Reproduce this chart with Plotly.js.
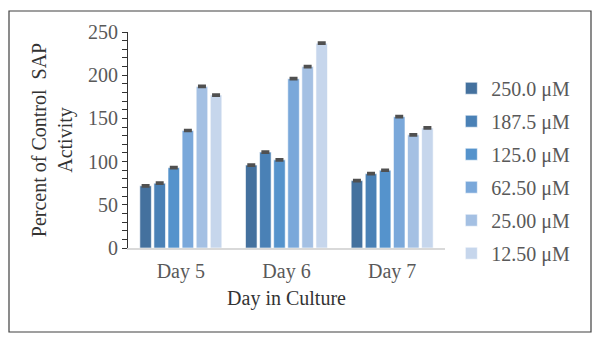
<!DOCTYPE html>
<html>
<head>
<meta charset="utf-8">
<script src="https://cdn.plot.ly/plotly-3.0.1.min.js"></script>
<style>
html,body{margin:0;padding:0;background:#fff;}
#chart{width:600px;height:344px;}
</style>
</head>
<body>
<div id="chart"></div>
<script>
const days = ["Day 5", "Day 6", "Day 7"];
const seriesNames = ["250.0 μM", "187.5 μM", "125.0 μM", "62.50 μM", "25.00 μM", "12.50 μM"];
const s250 = [72, 96, 78];
const s187 = [75, 111, 86];
const s125 = [93, 102, 90];
const s62 = [136, 196, 152];
const s25 = [187, 210, 131];
const s12 = [177, 237, 139];
const errs = [1, 1, 1];
const colors = ["#44719e", "#4a81b6", "#5593cc", "#7aa8da", "#a4c0e3", "#c6d6ec"];

const seriesValues = [s250, s187, s125, s62, s25, s12];
const traces = seriesValues.map((vals, i) => ({
  type: "bar",
  name: seriesNames[i],
  x: days,
  y: vals,
  legendgroup: "g" + i,
  marker: {color: colors[i], line: {color: "rgba(255,255,255,0.6)", width: 1}},
  error_y: {type: "data", array: errs, visible: true, color: "#505050", thickness: 2, width: 4}
}));

const L = 128, R = 155, T = 32, B = 96;
const W = 600 - L - R, H = 344 - T - B;
const px = v => (v - L) / W;
const py = v => (344 - B - v) / H;

const layout = {
  width: 600, height: 344,
  margin: {l: L, r: R, t: T, b: B},
  paper_bgcolor: "#fff", plot_bgcolor: "#fff",
  font: {family: "Liberation Serif, Times New Roman, serif", color: "#595959"},
  barmode: "group",
  bargap: 0.2,
  bargroupgap: 0.18,
  showlegend: true,
  legend: {
    x: 1.02, y: 0.83, xanchor: "left", yanchor: "top",
    font: {size: 20, color: "#595959", family: "Liberation Serif, serif"},
    tracegroupgap: 4,
    itemwidth: 30,
    bgcolor: "rgba(0,0,0,0)"
  },
  xaxis: {
    showline: true, linecolor: "#d9d9d9", linewidth: 1.5,
    ticks: "", showgrid: false,
    ticklabelstandoff: 4,
    tickfont: {size: 20, color: "#595959"},
    title: {text: "Day in Culture", font: {size: 20, color: "#333"}, standoff: 9}
  },
  yaxis: {
    range: [0, 250], dtick: 50, tick0: 0,
    showline: true, linecolor: "#333", linewidth: 1,
    ticks: "outside", ticklen: 5, tickcolor: "#333",
    minor: {dtick: 10, ticks: "outside", ticklen: 5, tickcolor: "#333"},
    showgrid: false, zeroline: false,
    tickfont: {size: 20, color: "#595959"},
    title: {text: "Percent of Control  SAP<br>Activity", font: {size: 20, color: "#333"}, standoff: 10}
  },
  shapes: [{
    type: "rect", xref: "paper", yref: "paper",
    x0: px(9), x1: px(591), y0: py(332), y1: py(11),
    line: {color: "#404040", width: 1.2}, fillcolor: "rgba(0,0,0,0)", layer: "below"
  }]
};

Plotly.newPlot("chart", traces, layout, {displayModeBar: false, staticPlot: true});
</script>
</body>
</html>
